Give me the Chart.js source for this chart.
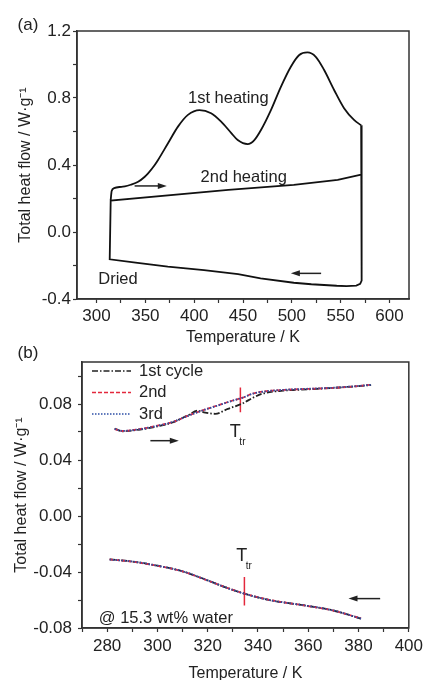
<!DOCTYPE html>
<html>
<head>
<meta charset="utf-8">
<script src="https://cdn.jsdelivr.net/npm/chart.js@4.4.1/dist/chart.umd.min.js"></script>
<style>
html, body { margin: 0; padding: 0; background: #fff; overflow: hidden; width: 427px; height: 680px; }
#chartA { position: absolute; left: 0; top: 0; }
#chartB { position: absolute; left: 0; top: 340px; }
</style>
</head>
<body>
<canvas id="chartA" width="427" height="347"></canvas>
<canvas id="chartB" width="427" height="343"></canvas>
<script>
// ---- panel (a): dried sample, temperature (K) / heat flow (W/g)
const heat1T = [314.5, 315.5, 318, 325.5, 329, 335, 342.6, 349.4, 352.8, 359.6, 363, 373.2, 383.4, 393.6, 405.5, 417.3, 427.6, 437.8, 444.6, 454.8, 461.6, 468.4, 478.6, 488.8, 499, 507.6, 516, 524.5, 533.1, 543.3, 553.5, 563.7, 571];
const heat1Y = [0.19, 0.245, 0.262, 0.270, 0.272, 0.282, 0.300, 0.330, 0.350, 0.400, 0.430, 0.530, 0.629, 0.699, 0.728, 0.709, 0.659, 0.592, 0.549, 0.525, 0.549, 0.609, 0.728, 0.867, 0.987, 1.057, 1.072, 1.046, 0.967, 0.848, 0.739, 0.669, 0.637];
// isothermal drop, cooling, and 2nd heating
const loopT = [571, 571.5, 570, 566, 556, 546, 520, 502, 468, 445, 410, 373, 340, 313.5, 314.5, 435, 502, 547, 571];
const loopY = [0.637, -0.29, -0.31, -0.32, -0.323, -0.321, -0.312, -0.303, -0.277, -0.252, -0.228, -0.207, -0.183, -0.163, 0.187, 0.251, 0.281, 0.311, 0.343];

// ---- panel (b): 15.3 wt% water, three cycles
const upT1 = [283, 286, 292, 300, 306, 312, 316, 319, 323, 328, 334, 338, 342, 350, 360, 370, 378, 385];
const upY1 = [0.0625, 0.0605, 0.0615, 0.064, 0.0668, 0.0718, 0.0752, 0.0738, 0.073, 0.0765, 0.0805, 0.0845, 0.0875, 0.0895, 0.0905, 0.0915, 0.0925, 0.0935];
const upT2 = [283, 286, 292, 300, 306, 312, 318, 324, 330, 334, 338, 344, 352, 360, 370, 378, 385];
const upY2 = [0.062, 0.0607, 0.0618, 0.0645, 0.067, 0.0715, 0.0755, 0.079, 0.0825, 0.0845, 0.0875, 0.0893, 0.0902, 0.0908, 0.0915, 0.0925, 0.0938];
const upY3 = [0.0622, 0.0608, 0.0617, 0.0644, 0.0671, 0.0714, 0.0754, 0.0789, 0.0824, 0.0846, 0.0874, 0.0892, 0.0903, 0.0909, 0.0916, 0.0926, 0.0937];
const downT = [281, 290, 300, 310, 320, 328, 335, 345, 358, 370, 381];
const downY1 = [-0.031, -0.0325, -0.0355, -0.0395, -0.046, -0.0515, -0.0557, -0.0602, -0.0637, -0.0675, -0.0733];
const downY2 = [-0.031, -0.0326, -0.0356, -0.0396, -0.0461, -0.0515, -0.0556, -0.0601, -0.0638, -0.0676, -0.0732];
const downY3 = [-0.0311, -0.0325, -0.0355, -0.0395, -0.046, -0.0516, -0.0557, -0.0602, -0.0637, -0.0675, -0.0733];
// transition temperature markers
const ttrUpT = [333, 333];
const ttrUpY = [0.0918, 0.0741];
const ttrDownT = [334.6, 334.6];
const ttrDownY = [-0.0436, -0.0639];

const pts = (xs, ys) => xs.map((x, i) => ({ x: x, y: ys[i] }));

Chart.defaults.font.family = '"Liberation Sans", Arial, sans-serif';
Chart.defaults.color = '#222';

const FRAME = '#333';
const RED = '#e3283c';
const BLUE = '#2d4fa6';

// frame, annotations, arrows, legend
const notesPlugin = {
    id: 'notes',
    afterDraw(chart, args, opts) {
        const ctx = chart.ctx;
        const a = chart.chartArea;
        const sx = chart.scales.x, sy = chart.scales.y;
        ctx.save();
        ctx.strokeStyle = FRAME;
        ctx.lineWidth = 1.5;
        ctx.strokeRect(a.left, a.top, a.right - a.left, a.bottom - a.top);

        ctx.fillStyle = '#222';
        ctx.textBaseline = 'middle';
        (opts.texts || []).forEach(t => {
            ctx.font = t.size + 'px "Liberation Sans", Arial, sans-serif';
            ctx.textAlign = t.align || 'center';
            ctx.fillText(t.text, sx.getPixelForValue(t.x), sy.getPixelForValue(t.y));
            if (t.sub) {
                ctx.font = '10px "Liberation Sans", Arial, sans-serif';
                ctx.textAlign = 'left';
                ctx.fillText(t.sub, sx.getPixelForValue(t.x) + 4, sy.getPixelForValue(t.y) + 10);
            }
        });

        (opts.arrows || []).forEach(r => {
            const x0 = sx.getPixelForValue(r.from), x1 = sx.getPixelForValue(r.to);
            const y = sy.getPixelForValue(r.y);
            const dir = x1 > x0 ? 1 : -1;
            ctx.strokeStyle = '#222';
            ctx.lineWidth = 1.5;
            ctx.beginPath();
            ctx.moveTo(x0, y);
            ctx.lineTo(x1 - dir * 6, y);
            ctx.stroke();
            ctx.fillStyle = '#222';
            ctx.beginPath();
            ctx.moveTo(x1, y);
            ctx.lineTo(x1 - dir * 9, y - 3);
            ctx.lineTo(x1 - dir * 9, y + 3);
            ctx.closePath();
            ctx.fill();
        });

        (opts.legend || []).forEach((l, i) => {
            const y = a.top + 9 + i * 21.5;
            ctx.strokeStyle = l.color;
            ctx.lineWidth = 1.6;
            ctx.setLineDash(l.dash);
            ctx.beginPath();
            ctx.moveTo(a.left + 10, y);
            ctx.lineTo(a.left + 49, y);
            ctx.stroke();
            ctx.setLineDash([]);
            ctx.fillStyle = '#222';
            ctx.font = '16.5px "Liberation Sans", Arial, sans-serif';
            ctx.textAlign = 'left';
            ctx.fillText(l.text, a.left + 57, y);
        });

        if (opts.panel) {
            ctx.fillStyle = '#222';
            ctx.font = '17px "Liberation Sans", Arial, sans-serif';
            ctx.textAlign = 'center';
            ctx.fillText(opts.panel.text, opts.panel.px, opts.panel.py);
        }
        ctx.restore();
    }
};

function axisX(min, max, step, major, pad, height) {
    return {
        type: 'linear', min: min, max: max,
        afterFit: s => { s.height = height; },
        ticks: {
            stepSize: step, autoSkip: false, maxRotation: 0, includeBounds: false,
            padding: pad, font: { size: 17 },
            callback: v => (Math.round(v) % major === 0 ? String(Math.round(v)) : '')
        },
        grid: { drawOnChartArea: false, tickLength: 4, tickColor: FRAME, tickWidth: 1.2 },
        border: { color: FRAME, width: 1.5 },
        title: { display: true, text: 'Temperature / K', font: { size: 16 }, padding: { top: 0, bottom: 0 } }
    };
}

function axisY(min, max, step, isMajor, digits, pad, width, titlePad) {
    return {
        type: 'linear', min: min, max: max,
        afterFit: s => { s.width = width; },
        ticks: {
            stepSize: step, autoSkip: false, includeBounds: false,
            padding: pad, font: { size: 17 },
            callback: v => (isMajor(v) ? v.toFixed(digits) : '')
        },
        grid: { drawOnChartArea: false, tickLength: 4, tickColor: FRAME, tickWidth: 1.2 },
        border: { color: FRAME, width: 1.5 },
        title: { display: true, text: 'Total heat flow / W·g⁻¹', font: { size: 16 }, padding: { top: titlePad, bottom: 0 } }
    };
}

const lineBase = { pointRadius: 0, fill: false, borderWidth: 1.8 };

new Chart(document.getElementById('chartA'), {
    type: 'line',
    data: {
        datasets: [
            Object.assign({ label: '1st heating', data: pts(heat1T, heat1Y), borderColor: '#111', cubicInterpolationMode: 'monotone' }, lineBase),
            Object.assign({ label: 'cooling / 2nd heating', data: pts(loopT, loopY), borderColor: '#111', tension: 0 }, lineBase)
        ]
    },
    options: {
        responsive: false,
        animation: false,
        layout: { padding: { top: 31, right: 18, left: 0, bottom: 0 } },
        scales: {
            x: axisX(280, 620, 25, 50, 3, 48),
            y: axisY(-0.4, 1.2, 0.2, v => Math.abs(Math.round(v * 10)) % 4 === 0, 1, 2, 77, 16)
        },
        plugins: {
            legend: { display: false },
            tooltip: { enabled: false },
            notes: {
                texts: [
                    { text: '1st heating', x: 435, y: 0.80, size: 16.5 },
                    { text: '2nd heating', x: 450.7, y: 0.328, size: 16.5 },
                    { text: 'Dried', x: 322, y: -0.286, size: 16.5 }
                ],
                arrows: [
                    { from: 339, to: 372, y: 0.275 },
                    { from: 530, to: 499, y: -0.247 }
                ],
                panel: { text: '(a)', px: 28, py: 25 }
            }
        }
    },
    plugins: [notesPlugin]
});

new Chart(document.getElementById('chartB'), {
    type: 'line',
    data: {
        datasets: [
            Object.assign({ label: '3rd', data: pts(upT2, upY3), borderColor: BLUE, borderDash: [1.5, 1.5], cubicInterpolationMode: 'monotone' }, lineBase),
            Object.assign({ label: '3rd', data: pts(downT, downY3), borderColor: BLUE, borderDash: [1.5, 1.5], cubicInterpolationMode: 'monotone' }, lineBase),
            Object.assign({ label: '2nd', data: pts(upT2, upY2), borderColor: RED, borderDash: [4, 2], cubicInterpolationMode: 'monotone' }, lineBase),
            Object.assign({ label: '2nd', data: pts(downT, downY2), borderColor: RED, borderDash: [4, 2], cubicInterpolationMode: 'monotone' }, lineBase),
            Object.assign({ label: '1st cycle', data: pts(upT1, upY1), borderColor: '#222', borderDash: [6, 2, 1.5, 2], cubicInterpolationMode: 'monotone' }, lineBase),
            Object.assign({ label: '1st cycle', data: pts(downT, downY1), borderColor: '#222', borderDash: [6, 2, 1.5, 2], cubicInterpolationMode: 'monotone' }, lineBase),
            { label: 'Ttr', data: pts(ttrUpT, ttrUpY), borderColor: RED, borderWidth: 1.5, pointRadius: 0 },
            { label: 'Ttr', data: pts(ttrDownT, ttrDownY), borderColor: RED, borderWidth: 1.5, pointRadius: 0 }
        ]
    },
    options: {
        responsive: false,
        animation: false,
        layout: { padding: { top: 22, right: 16, left: 0, bottom: 0 } },
        scales: {
            x: axisX(270, 400, 10, 20, 4, 55),
            y: axisY(-0.08, 0.11, 0.02, v => Math.abs(Math.round(v * 100)) % 4 === 0, 2, 6, 82, 12)
        },
        plugins: {
            legend: { display: false },
            tooltip: { enabled: false },
            notes: {
                texts: [
                    { text: 'T', sub: 'tr', x: 331, y: 0.0599, size: 18 },
                    { text: 'T', sub: 'tr', x: 333.5, y: -0.0285, size: 18 },
                    { text: '@ 15.3 wt% water', x: 276.7, y: -0.0731, size: 16.5, align: 'left' }
                ],
                arrows: [
                    { from: 297.2, to: 308.5, y: 0.0538 },
                    { from: 388.6, to: 376, y: -0.059 }
                ],
                legend: [
                    { text: '1st cycle', color: '#222', dash: [6, 2, 1.5, 2] },
                    { text: '2nd', color: RED, dash: [4, 2] },
                    { text: '3rd', color: BLUE, dash: [1.5, 1.5] }
                ],
                panel: { text: '(b)', px: 28, py: 13 }
            }
        }
    },
    plugins: [notesPlugin]
});
</script>
</body>
</html>
